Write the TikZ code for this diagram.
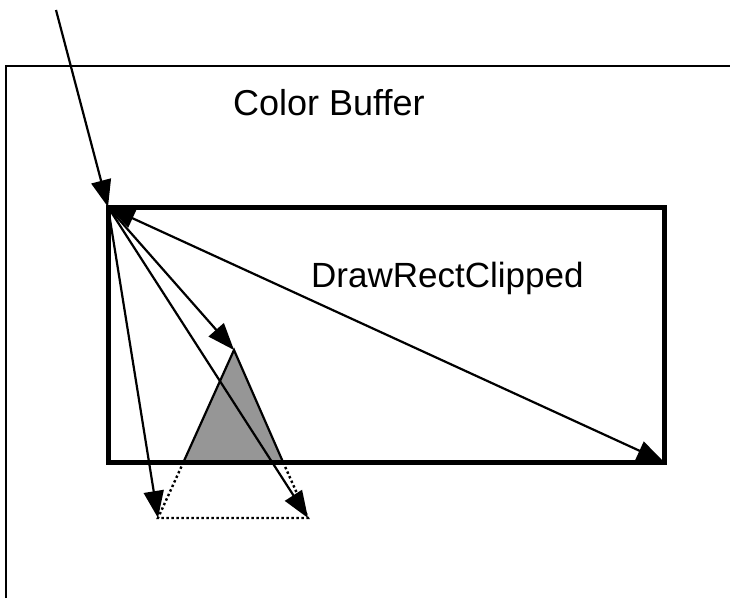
\documentclass[tikz,border=0pt]{standalone}
\usepackage{fontspec}
\setmainfont{Liberation Sans}
\usepackage{tikz}
\usetikzlibrary{arrows.meta}

\begin{document}
\begin{tikzpicture}[
  x=1pt, y=-1pt,
  buffer/.style={line width=2.2pt},
  rectline/.style={line width=5pt},
  arrow/.style={line width=2.2pt, -{Triangle[length=27pt, width=20pt]}},
  dblarrow/.style={line width=2.2pt, {Triangle[length=27pt, width=20pt]}-{Triangle[length=27pt, width=20pt]}},
  dotline/.style={line width=2.4pt, dash pattern=on 2.4pt off 2.6pt},
  label/.style={anchor=base west, inner sep=0pt, font=\fontsize{36}{40}\selectfont}
]
\useasboundingbox (0,0) rectangle (730,598);

% color buffer edge
\coordinate (bufbl) at (6,598);
\coordinate (buftl) at (6,66);
\coordinate (buftr) at (730,66);
\draw[buffer] (bufbl) -- (buftl) -- (buftr);
\node[label] (buflabel) at (233,115) {Color Buffer};

% clip rectangle
\coordinate (rnw) at (108,207);
\coordinate (rse) at (664,462);
\node[label, font=\fontsize{35}{40}\selectfont] (rectlabel) at (311,287) {DrawRectClipped};

% triangle, clipped part filled
\coordinate (apex) at (234,350);
\coordinate (bl) at (158,518);
\coordinate (br) at (308,518);
\coordinate (cl) at (183.5,462);
\coordinate (cr) at (283,462);
\fill[fill={rgb,255:red,150;green,150;blue,150}] (cl) -- (apex) -- (cr) -- cycle;
\draw[buffer] (cl) -- (apex) -- (cr);
\draw[dotline] (cl) -- (bl) -- (br) -- (cr);

\draw[rectline] (rnw) rectangle (rse);

% arrows from the corner
\coordinate (start) at (56,10);
\draw[arrow] (start) -- (rnw);
\draw[dblarrow] (rnw) -- (rse);
\draw[arrow] (rnw) -- (apex);
\draw[arrow] (rnw) -- (bl);
\draw[arrow] (rnw) -- (br);
\end{tikzpicture}
\end{document}
